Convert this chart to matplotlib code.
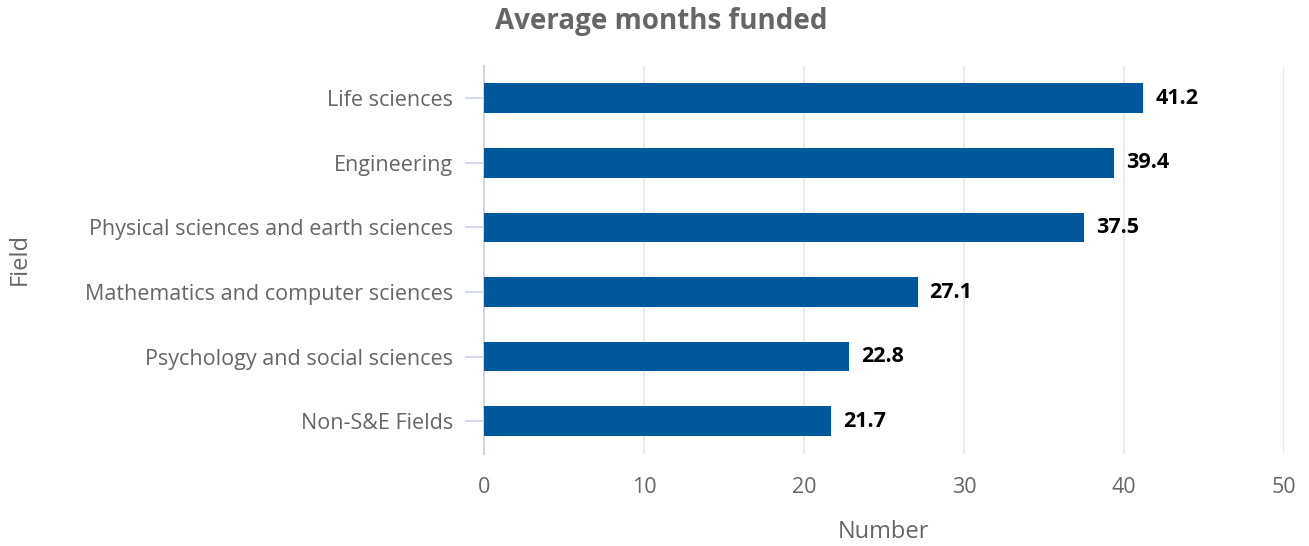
import matplotlib.pyplot as plt

fields = ['Life sciences', 'Engineering', 'Physical sciences and earth sciences',
          'Mathematics and computer sciences', 'Psychology and social sciences',
          'Non-S&E Fields']
months = [41.2, 39.4, 37.5, 27.1, 22.8, 21.7]
xticks = [0, 10, 20, 30, 40, 50]

plt.rcParams['font.family'] = ['Open Sans', 'DejaVu Sans']

fig = plt.figure(figsize=(13.09, 5.46), dpi=100)
ax = fig.add_axes([484 / 1309, 1 - 453.5 / 546, 800 / 1309, 387.5 / 546])

y = list(range(len(fields)))
ax.barh(y, months, height=0.46, color='#01579b', zorder=3)
for yi, v in zip(y, months):
    ax.text(v + 0.75, yi, f'{v}', va='center', ha='left', fontsize=15.5,
            fontweight='bold', color='black')

ax.set_ylim(len(fields) - 0.5, -0.5)
ax.set_xlim(0, 50)
ax.set_yticks(y)
ax.set_yticklabels(fields)
ax.set_xticks(xticks)
ax.grid(axis='x', color='#e6e6e6', linewidth=1.2, zorder=0)

for s in ['top', 'right', 'bottom']:
    ax.spines[s].set_visible(False)
ax.spines['left'].set_color('#ccd6eb')
ax.spines['left'].set_linewidth(1.5)

ax.tick_params(axis='y', length=13.7, width=1.2, color='#ccd6eb', pad=8.6,
               labelsize=15.5, labelcolor='#666666')
ax.tick_params(axis='x', length=0, pad=17, labelsize=15.5, labelcolor='#666666')

ax.set_xlabel('Number', fontsize=17, color='#666666', labelpad=16)
fig.text(20 / 1309, 1 - 259 / 546, 'Field', rotation=90, ha='center', va='center',
         fontsize=17, color='#666666')
fig.text(0.505, 1 - 22 / 546, 'Average months funded', ha='center', va='center',
         fontsize=20, fontweight='bold', color='#666666')

fig.savefig('out.png', dpi=100)
